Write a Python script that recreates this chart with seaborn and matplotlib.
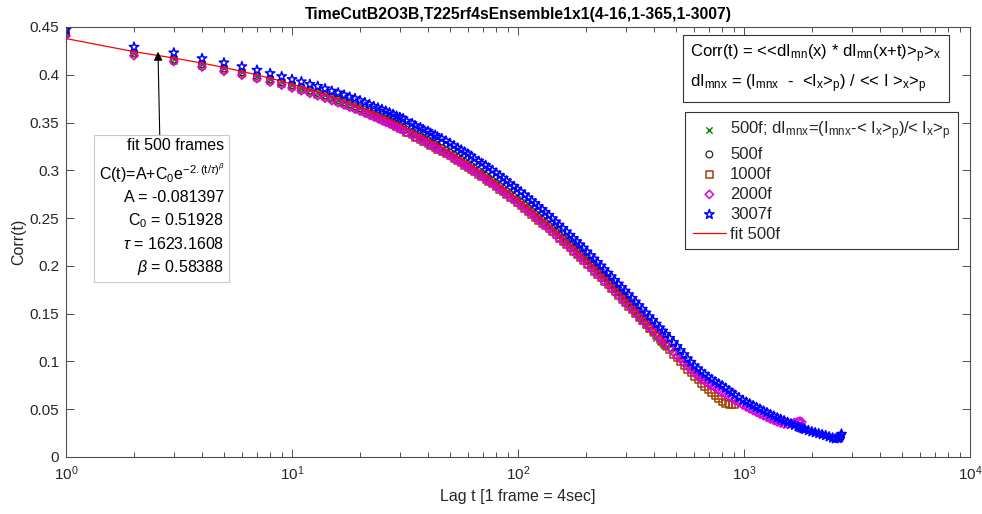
import numpy as np
import matplotlib
matplotlib.use("Agg")
import matplotlib.pyplot as plt
from matplotlib import ticker
import seaborn as sns

# ---------------------------------------------------------------- data
lag = [1, 2, 3, 4, 5, 6, 7, 8, 9, 10, 11, 12, 13, 14, 15, 16, 17, 18, 19, 20,
       21, 22, 23, 24, 25, 26, 27, 28, 29, 30, 31,
       32, 34, 35, 37, 38, 40, 41, 43, 44, 46,
       48, 50, 52, 54, 56, 58, 60, 62, 64, 67,
       69, 72, 74, 77, 80, 83, 86, 89, 92, 96,
       99, 103, 107, 111, 115, 119, 123, 128, 132, 137,
       142, 147, 152, 158, 164, 170, 176, 182, 188, 195,
       202, 210, 217, 225, 233, 241, 250, 259, 268, 278,
       288, 298, 309, 320, 331, 343, 355, 368, 381, 395,
       409, 424, 437, 450,
       469, 488, 506, 524, 543, 562, 582, 603, 625, 647,
       670, 694, 719, 745, 772, 799, 828, 857, 884, 912,
       949, 987, 1022, 1059, 1097, 1136, 1177, 1219, 1263, 1308,
       1355, 1403, 1453, 1505, 1559, 1615, 1673, 1733, 1766, 1800,
       1829, 1859, 1926, 1995, 2066, 2140, 2217, 2296, 2379, 2464,
       2531, 2600, 2625, 2650, 2675, 2700]

corr_500f_norm = [
    0.4440, 0.4232, 0.4162, 0.4113, 0.4067, 0.4027, 0.3990, 0.3955, 0.3923, 0.3893,
    0.3864, 0.3837, 0.3811, 0.3786, 0.3761, 0.3738, 0.3715, 0.3693, 0.3672, 0.3651,
    0.3631, 0.3611, 0.3591, 0.3573, 0.3554, 0.3537, 0.3519, 0.3502, 0.3484, 0.3468, 0.3452,
    0.3427, 0.3402, 0.3380, 0.3357, 0.3336, 0.3315, 0.3295, 0.3274, 0.3254, 0.3233,
    0.3209, 0.3184, 0.3160, 0.3135, 0.3112, 0.3089, 0.3068, 0.3046, 0.3019, 0.2992,
    0.2967, 0.2942, 0.2917, 0.2892, 0.2864, 0.2836, 0.2809, 0.2782, 0.2753, 0.2723,
    0.2695, 0.2666, 0.2635, 0.2603, 0.2574, 0.2544, 0.2513, 0.2482, 0.2452, 0.2421,
    0.2389, 0.2357, 0.2324, 0.2290, 0.2256, 0.2222, 0.2189, 0.2155, 0.2122, 0.2088,
    0.2050, 0.2012, 0.1977, 0.1941, 0.1906, 0.1870, 0.1832, 0.1794, 0.1755, 0.1716,
    0.1678, 0.1640, 0.1596, 0.1552, 0.1511, 0.1470, 0.1428, 0.1385, 0.1340, 0.1295,
    0.1250, 0.1205, 0.1178, 0.1150]

corr_500f = [
    0.4435, 0.4228, 0.4160, 0.4112, 0.4066, 0.4026, 0.3989, 0.3954, 0.3922, 0.3892,
    0.3863, 0.3836, 0.3810, 0.3785, 0.3760, 0.3737, 0.3714, 0.3692, 0.3671, 0.3650,
    0.3630, 0.3610, 0.3590, 0.3572, 0.3553, 0.3536, 0.3518, 0.3501, 0.3483, 0.3467, 0.3451,
    0.3426, 0.3401, 0.3379, 0.3356, 0.3335, 0.3314, 0.3294, 0.3273, 0.3253, 0.3232,
    0.3208, 0.3183, 0.3159, 0.3134, 0.3111, 0.3088, 0.3067, 0.3045, 0.3018, 0.2991,
    0.2966, 0.2941, 0.2916, 0.2891, 0.2863, 0.2835, 0.2808, 0.2781, 0.2752, 0.2722,
    0.2694, 0.2665, 0.2634, 0.2602, 0.2573, 0.2543, 0.2512, 0.2481, 0.2451, 0.2420,
    0.2388, 0.2356, 0.2323, 0.2289, 0.2255, 0.2221, 0.2188, 0.2155, 0.2122, 0.2088,
    0.2051, 0.2013, 0.1978, 0.1943, 0.1908, 0.1873, 0.1836, 0.1798, 0.1760, 0.1722,
    0.1684, 0.1646, 0.1607, 0.1568, 0.1529, 0.1490, 0.1450, 0.1410, 0.1369, 0.1328,
    0.1284, 0.1240, 0.1204, 0.1168]

corr_1000f = [
    0.4425, 0.4215, 0.4150, 0.4097, 0.4051, 0.4011, 0.3974, 0.3939, 0.3907, 0.3877,
    0.3848, 0.3821, 0.3795, 0.3770, 0.3745, 0.3722, 0.3699, 0.3677, 0.3656, 0.3635,
    0.3612, 0.3591, 0.3570, 0.3550, 0.3530, 0.3512, 0.3493, 0.3474, 0.3455, 0.3438, 0.3421,
    0.3395, 0.3369, 0.3346, 0.3322, 0.3301, 0.3279, 0.3259, 0.3238, 0.3218, 0.3197,
    0.3173, 0.3148, 0.3124, 0.3099, 0.3076, 0.3053, 0.3032, 0.3010, 0.2983, 0.2956,
    0.2931, 0.2906, 0.2881, 0.2856, 0.2828, 0.2800, 0.2773, 0.2746, 0.2717, 0.2687,
    0.2659, 0.2630, 0.2599, 0.2567, 0.2538, 0.2508, 0.2477, 0.2446, 0.2416, 0.2385,
    0.2353, 0.2321, 0.2288, 0.2254, 0.2220, 0.2186, 0.2153, 0.2120, 0.2087, 0.2053,
    0.2016, 0.1978, 0.1943, 0.1908, 0.1873, 0.1838, 0.1801, 0.1763, 0.1725, 0.1687,
    0.1650, 0.1613, 0.1575, 0.1537, 0.1499, 0.1461, 0.1423, 0.1384, 0.1345, 0.1306,
    0.1267, 0.1227, 0.1194, 0.1161,
    0.1118, 0.1075, 0.1035, 0.0995, 0.0955, 0.0915, 0.0878, 0.0840, 0.0805, 0.0770,
    0.0738, 0.0705, 0.0673, 0.0640, 0.0609, 0.0578, 0.0562, 0.0552, 0.0550, 0.0548]

corr_2000f = [
    0.4410, 0.4200, 0.4140, 0.4082, 0.4036, 0.3996, 0.3959, 0.3924, 0.3892, 0.3862,
    0.3833, 0.3806, 0.3780, 0.3755, 0.3730, 0.3707, 0.3684, 0.3662, 0.3641, 0.3620,
    0.3600, 0.3580, 0.3560, 0.3542, 0.3523, 0.3506, 0.3488, 0.3471, 0.3453, 0.3437, 0.3421,
    0.3396, 0.3371, 0.3349, 0.3326, 0.3305, 0.3284, 0.3264, 0.3243, 0.3223, 0.3202,
    0.3178, 0.3153, 0.3129, 0.3104, 0.3081, 0.3058, 0.3037, 0.3015, 0.2988, 0.2961,
    0.2936, 0.2911, 0.2886, 0.2861, 0.2833, 0.2805, 0.2778, 0.2751, 0.2722, 0.2692,
    0.2664, 0.2635, 0.2604, 0.2572, 0.2543, 0.2513, 0.2482, 0.2451, 0.2421, 0.2390,
    0.2358, 0.2326, 0.2293, 0.2259, 0.2225, 0.2191, 0.2158, 0.2125, 0.2092, 0.2058,
    0.2021, 0.1983, 0.1948, 0.1913, 0.1878, 0.1843, 0.1806, 0.1768, 0.1730, 0.1692,
    0.1655, 0.1618, 0.1582, 0.1545, 0.1508, 0.1470, 0.1433, 0.1396, 0.1359, 0.1321,
    0.1283, 0.1245, 0.1213, 0.1180,
    0.1138, 0.1095, 0.1059, 0.1022, 0.0986, 0.0950, 0.0915, 0.0880, 0.0850, 0.0820,
    0.0795, 0.0770, 0.0748, 0.0725, 0.0703, 0.0680, 0.0658, 0.0635, 0.0614, 0.0592,
    0.0569, 0.0545, 0.0525, 0.0505, 0.0487, 0.0468, 0.0450, 0.0432, 0.0415, 0.0398,
    0.0383, 0.0368, 0.0356, 0.0345, 0.0342, 0.0350, 0.0362, 0.0370, 0.0374, 0.0365]

corr_3007f = [
    0.4470, 0.4290, 0.4230, 0.4170, 0.4126, 0.4086, 0.4049, 0.4014, 0.3982, 0.3952,
    0.3928, 0.3901, 0.3880, 0.3855, 0.3830, 0.3812, 0.3789, 0.3767, 0.3751, 0.3730,
    0.3710, 0.3690, 0.3670, 0.3654, 0.3638, 0.3621, 0.3603, 0.3586, 0.3568, 0.3555, 0.3541,
    0.3516, 0.3491, 0.3469, 0.3446, 0.3428, 0.3409, 0.3389, 0.3368, 0.3350, 0.3332,
    0.3308, 0.3283, 0.3259, 0.3234, 0.3214, 0.3193, 0.3172, 0.3150, 0.3123, 0.3096,
    0.3074, 0.3051, 0.3026, 0.3001, 0.2973, 0.2945, 0.2918, 0.2891, 0.2862, 0.2832,
    0.2804, 0.2775, 0.2744, 0.2712, 0.2683, 0.2653, 0.2622, 0.2591, 0.2561, 0.2530,
    0.2496, 0.2461, 0.2428, 0.2394, 0.2358, 0.2321, 0.2288, 0.2255, 0.2222, 0.2188,
    0.2148, 0.2108, 0.2073, 0.2038, 0.2001, 0.1963, 0.1926, 0.1888, 0.1850, 0.1812,
    0.1775, 0.1738, 0.1700, 0.1662, 0.1624, 0.1586, 0.1548, 0.1509, 0.1470, 0.1431,
    0.1392, 0.1352, 0.1319, 0.1286,
    0.1243, 0.1200, 0.1158, 0.1115, 0.1073, 0.1030, 0.0993, 0.0955, 0.0924, 0.0893,
    0.0866, 0.0838, 0.0813, 0.0788, 0.0767, 0.0746, 0.0721, 0.0695, 0.0672, 0.0648,
    0.0622, 0.0595, 0.0576, 0.0557, 0.0538, 0.0519, 0.0501, 0.0482, 0.0464, 0.0445,
    0.0428, 0.0410, 0.0395, 0.0380, 0.0363, 0.0346, 0.0332, 0.0317, 0.0310, 0.0302,
    0.0296, 0.0289, 0.0277, 0.0265, 0.0255, 0.0245, 0.0235, 0.0225, 0.0212, 0.0200,
    0.0190, 0.0195, 0.0198, 0.0205, 0.0222, 0.0240]

# stretched-exponential fit to the 500-frame correlation
fit_A = -0.081397
fit_C0 = 0.51928
fit_tau = 1623.1608
fit_beta = 0.58388
fit_last_frame = 450

y_ticks = [0, 0.05, 0.1, 0.15, 0.2, 0.25, 0.3, 0.35, 0.4, 0.45]

title = "TimeCutB2O3B,T225rf4sEnsemble1x1(4-16,1-365,1-3007)"
x_label = "Lag t [1 frame = 4sec]"
y_label = "Corr(t)"

# ---------------------------------------------------------------- style
sns.set_theme(style="ticks")
plt.rcParams["font.family"] = ["Liberation Sans", "DejaVu Sans"]
plt.rcParams["mathtext.fontset"] = "custom"
plt.rcParams["mathtext.rm"] = "Liberation Sans"
plt.rcParams["mathtext.it"] = "Liberation Sans:italic"
plt.rcParams["mathtext.bf"] = "Liberation Sans:bold"
plt.rcParams["mathtext.default"] = "regular"

axis_color = "#4d4d4d"
text_color = "#262626"

fig = plt.figure(figsize=(9.82, 5.14), dpi=100)
ax = fig.add_axes([0.0672, 0.1109, 0.9206, 0.8366])

series = [
    (corr_500f_norm, dict(marker="x", s=20, color="#008000", linewidth=1.0),
     r"500f; dI$_{mnx}$=(I$_{mnx}$-< I$_x$>$_p$)/< I$_x$>$_p$"),
    (corr_500f, dict(marker="o", s=24, color="#262626", facecolor="none",
                     edgecolor="#262626", linewidth=0.9), "500f"),
    (corr_1000f, dict(marker="s", s=22, color="#a04000", facecolor="none",
                      edgecolor="#a04000", linewidth=1.1), "1000f"),
    (corr_2000f, dict(marker="D", s=18, color="#dd00dd", facecolor="none",
                      edgecolor="#dd00dd", linewidth=1.1), "2000f"),
    (corr_3007f, dict(marker="*", s=50, color="#0000ff", facecolor="none",
                      edgecolor="#0000ff", linewidth=1.1), "3007f"),
]

for values, kws, label in series:
    sns.scatterplot(x=lag[:len(values)], y=values, ax=ax, label=label,
                    legend=False, **kws)

frame = np.arange(1, fit_last_frame + 1)
fit_curve = fit_A + fit_C0 * np.exp(-2.0 * ((frame - 1) / fit_tau) ** fit_beta)
sns.lineplot(x=frame, y=fit_curve, ax=ax, color="#ff0000", linewidth=0.9,
             label="fit 500f", legend=False, errorbar=None, sort=False)

# ---------------------------------------------------------------- axes
ax.set_xscale("log")
ax.set_xlim(1, 1e4)
ax.set_ylim(0, 0.45)
ax.set_yticks(y_ticks)
ax.yaxis.set_major_formatter(ticker.FormatStrFormatter("%g"))
ax.yaxis.set_minor_locator(ticker.NullLocator())
ax.xaxis.set_major_locator(ticker.LogLocator(base=10, numticks=10))
ax.xaxis.set_minor_locator(ticker.LogLocator(base=10, subs=np.arange(2, 10), numticks=20))
ax.xaxis.set_minor_formatter(ticker.NullFormatter())

for sp in ax.spines.values():
    sp.set_visible(True)
    sp.set_color(axis_color)
    sp.set_linewidth(0.8)

ax.tick_params(which="both", direction="in", top=True, right=True,
               color=axis_color, width=0.7, labelcolor=text_color, labelsize=11)
ax.tick_params(which="major", length=6, pad=5)
ax.tick_params(which="minor", length=3.5)

ax.set_title(title, fontsize=11.3, fontweight="bold", color="black", pad=6)
ax.set_xlabel(x_label, fontsize=11.5, color=text_color, labelpad=5)
ax.set_ylabel(y_label, fontsize=11.5, color=text_color, labelpad=2)

# definition box
definition = (r"Corr(t) = <<dI$_{mn}$(x) * dI$_{mn}$(x+t)>$_p$>$_x$" "\n"
              r"dI$_{mnx}$ = (I$_{mnx}$  -  <I$_x$>$_p$) / << I >$_x$>$_p$")
ax.text(0.6908, 0.9647, definition, transform=ax.transAxes, ha="left", va="top",
        fontsize=12, color="black", linespacing=1.5, zorder=6,
        bbox=dict(boxstyle="square,pad=0.45", facecolor="white",
                  edgecolor="#333333", linewidth=0.8))

# fit parameter annotation
fit_text = "\n".join([
    "fit 500 frames",
    r"C(t)=A+C$_0$e$^{-2.(t/\mathit{\tau})^{\mathit{\beta}}}$",
    f"A = {fit_A}",
    f"C$_0$ = {fit_C0}",
    rf"$\mathit{{\tau}}$ = {fit_tau}",
    rf"$\mathit{{\beta}}$ = {fit_beta}",
])
ax.annotate(fit_text, xy=(2.553, 0.4241), xytext=(2.64, 0.2609),
            textcoords="data", ha="center", va="center", multialignment="right",
            fontsize=11.5, color="black", linespacing=1.45, zorder=6,
            bbox=dict(boxstyle="square,pad=0.3", facecolor="white",
                      edgecolor="#c8c8c8", linewidth=0.8),
            arrowprops=dict(arrowstyle="-|>", color="black", linewidth=0.8,
                            mutation_scale=13, shrinkA=0, shrinkB=0))

handles, labels = ax.get_legend_handles_labels()
leg = ax.legend(handles, labels, loc="upper right", bbox_to_anchor=(0.9867, 0.803),
                frameon=True, fancybox=False, framealpha=1, edgecolor="#333333",
                fontsize=12, handlelength=2.0, handletextpad=0.25,
                labelspacing=0.3, borderpad=0.45, borderaxespad=0.0)
leg.get_frame().set_linewidth(0.8)
leg.set_zorder(7)

fig.savefig("out.png", dpi=100)
